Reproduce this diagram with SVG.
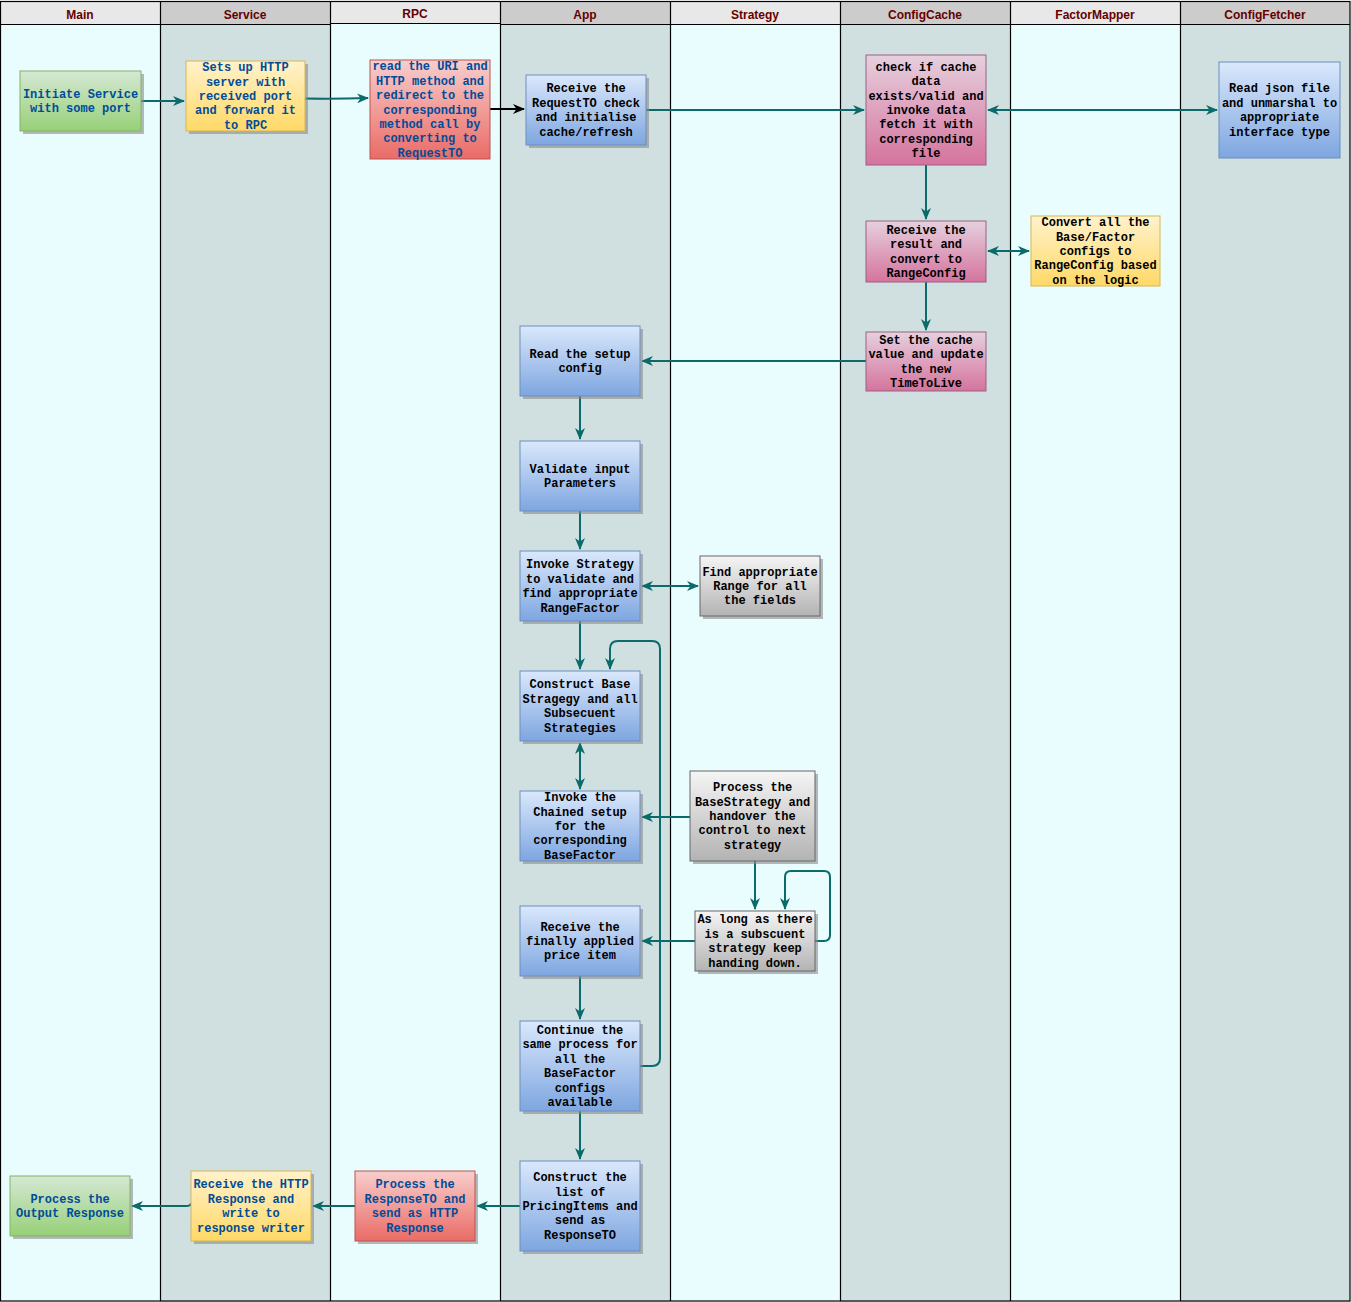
<svg xmlns="http://www.w3.org/2000/svg" width="1351" height="1302" viewBox="0 0 1351 1302">
<defs>
<linearGradient id="gBlue" x1="0" y1="0" x2="0" y2="1"><stop offset="0" stop-color="#dae8fc"/><stop offset="1" stop-color="#7ea6e0"/></linearGradient>
<linearGradient id="gGreen" x1="0" y1="0" x2="0" y2="1"><stop offset="0" stop-color="#d5e8d4"/><stop offset="1" stop-color="#97d077"/></linearGradient>
<linearGradient id="gYellow" x1="0" y1="0" x2="0" y2="1"><stop offset="0" stop-color="#fff2cc"/><stop offset="1" stop-color="#ffd966"/></linearGradient>
<linearGradient id="gRed" x1="0" y1="0" x2="0" y2="1"><stop offset="0" stop-color="#f8cecc"/><stop offset="1" stop-color="#ea6b66"/></linearGradient>
<linearGradient id="gPink" x1="0" y1="0" x2="0" y2="1"><stop offset="0" stop-color="#e6d0de"/><stop offset="1" stop-color="#d5739d"/></linearGradient>
<linearGradient id="gGrey" x1="0" y1="0" x2="0" y2="1"><stop offset="0" stop-color="#f5f5f5"/><stop offset="1" stop-color="#b3b3b3"/></linearGradient>
<marker id="arr" viewBox="0 0 12 10" refX="11" refY="5" markerWidth="12" markerHeight="10" markerUnits="userSpaceOnUse" orient="auto-start-reverse">
<path d="M0,0 L12,5 L0,10 L3.5,5 z" fill="#0b6b6b"/>
</marker>
<marker id="arrK" viewBox="0 0 12 10" refX="11" refY="5" markerWidth="12" markerHeight="10" markerUnits="userSpaceOnUse" orient="auto-start-reverse">
<path d="M0,0 L12,5 L0,10 L3.5,5 z" fill="#000"/>
</marker>
</defs>
<style>
.lane1{fill:#e9fdfe}
.lane2{fill:#d0e0e0}
.hd1{fill:#e8e8e8}
.hd2{fill:#cccccc}
.ln{stroke:#000;stroke-width:1.2;fill:none}
.ht{font-family:"Liberation Sans",Arial,sans-serif;font-weight:bold;font-size:12px;fill:#660000;text-anchor:middle}
.sh{fill:#8a8a8a;opacity:0.6}
.t{font-family:"Liberation Mono","Courier New",monospace;font-weight:bold;font-size:12px;text-anchor:middle;fill:#000}
.tb{fill:#004c99}
.blue{fill:url(#gBlue);stroke:#6c8ebf}
.green{fill:url(#gGreen);stroke:#82b366}
.yellow{fill:url(#gYellow);stroke:#d6b656}
.red{fill:url(#gRed);stroke:#b85450}
.pink{fill:url(#gPink);stroke:#996185}
.grey{fill:url(#gGrey);stroke:#666666}
.e{stroke:#0b6b6b;stroke-width:2;fill:none;marker-end:url(#arr)}
.e2{stroke:#0b6b6b;stroke-width:2;fill:none;marker-end:url(#arr);marker-start:url(#arr)}
</style>
<g id="lanes">
<rect class="lane1" x="0" y="24" width="160" height="1278"/>
<rect class="lane2" x="160" y="24" width="170" height="1278"/>
<rect class="lane1" x="330" y="24" width="170" height="1278"/>
<rect class="lane2" x="500" y="24" width="170" height="1278"/>
<rect class="lane1" x="670" y="24" width="170" height="1278"/>
<rect class="lane2" x="840" y="24" width="170" height="1278"/>
<rect class="lane1" x="1010" y="24" width="170" height="1278"/>
<rect class="lane2" x="1180" y="24" width="170" height="1278"/>
<rect class="hd1" x="0" y="1" width="160" height="23"/>
<rect class="hd2" x="160" y="1" width="170" height="23"/>
<rect class="hd1" x="330" y="1" width="170" height="22"/>
<rect class="hd2" x="500" y="1" width="170" height="23"/>
<rect class="hd1" x="670" y="1" width="170" height="23"/>
<rect class="hd2" x="840" y="1" width="170" height="23"/>
<rect class="hd1" x="1010" y="1" width="170" height="23"/>
<rect class="hd2" x="1180" y="1" width="170" height="23"/>
<rect class="ln" x="0.5" y="1.5" width="1349.5" height="1299.5"/>
<path class="ln" d="M160.5 1.5V1301 M330.5 1V1301 M500.5 1V1301 M670.5 1.5V1301 M840.5 1.5V1301 M1010.5 1.5V1301 M1180.5 1.5V1301 M0.5 24.5H330.5 M330.5 23.5H500.5 M500.5 24.5H1350"/>
<text class="ht" x="80" y="19">Main</text>
<text class="ht" x="245" y="19">Service</text>
<text class="ht" x="415" y="18">RPC</text>
<text class="ht" x="585" y="19">App</text>
<text class="ht" x="755" y="19">Strategy</text>
<text class="ht" x="925" y="19">ConfigCache</text>
<text class="ht" x="1095" y="19">FactorMapper</text>
<text class="ht" x="1265" y="19">ConfigFetcher</text>
</g>
<g id="connectors">
<path class="e" d="M141 101H184"/>
<path class="e" d="M305 98.5Q337 99 368 98"/>
<path d="M490 109H524" stroke="#000" stroke-width="2" fill="none" marker-end="url(#arrK)"/>
<path class="e" d="M646 110H864"/>
<path class="e2" d="M988 110H1217"/>
<path class="e" d="M926 165V219"/>
<path class="e2" d="M988 251H1029"/>
<path class="e" d="M926 282V330"/>
<path class="e" d="M866 361H642"/>
<path class="e" d="M580 396V439"/>
<path class="e" d="M580 511V549"/>
<path class="e2" d="M642 586H698"/>
<path class="e" d="M580 621V669"/>
<path class="e2" d="M580 743V789"/>
<path class="e" d="M690 817H642"/>
<path class="e" d="M755 861V909"/>
<path class="e" d="M815 941H824Q830 941 830 935V877Q830 871 824 871H791Q785 871 785 877V909"/>
<path class="e" d="M695 941H642"/>
<path class="e" d="M580 976V1019"/>
<path class="e" d="M640 1066H652Q660 1066 660 1058V649Q660 641 652 641H618Q610 641 610 649V669"/>
<path class="e" d="M580 1111V1159"/>
<path class="e" d="M520 1206H477"/>
<path class="e" d="M355 1206H313"/>
<path class="e" d="M191 1203Q191 1206 186 1206H132"/>
</g>
<g id="n-initiate">
<rect class="sh" x="23" y="74" width="121" height="60"/>
<rect class="green" x="20" y="71" width="121" height="60"/>
<text class="t tb" x="80.5" y="97.8"><tspan x="80.5">Initiate Service</tspan><tspan x="80.5" dy="14.4">with some port</tspan></text>
</g>
<g id="n-setup-http">
<rect class="sh" x="189" y="64" width="119" height="70"/>
<rect class="yellow" x="186" y="61" width="119" height="70"/>
<text class="t tb" x="245.5" y="71.2"><tspan x="245.5">Sets up HTTP</tspan><tspan x="245.5" dy="14.4">server with</tspan><tspan x="245.5" dy="14.4">received port</tspan><tspan x="245.5" dy="14.4">and forward it</tspan><tspan x="245.5" dy="14.4">to RPC</tspan></text>
</g>
<g id="n-read-uri">
<rect class="red" x="370" y="60" width="120" height="99"/>
<text class="t tb" x="430" y="70.3"><tspan x="430">read the URI and</tspan><tspan x="430" dy="14.4">HTTP method and</tspan><tspan x="430" dy="14.4">redirect to the</tspan><tspan x="430" dy="14.4">corresponding</tspan><tspan x="430" dy="14.4">method call by</tspan><tspan x="430" dy="14.4">converting to</tspan><tspan x="430" dy="14.4">RequestTO</tspan></text>
</g>
<g id="n-receive-request">
<rect class="sh" x="529" y="78" width="120" height="70"/>
<rect class="blue" x="526" y="75" width="120" height="70"/>
<text class="t" x="586" y="92.4"><tspan x="586">Receive the</tspan><tspan x="586" dy="14.4">RequestTO check</tspan><tspan x="586" dy="14.4">and initialise</tspan><tspan x="586" dy="14.4">cache/refresh</tspan></text>
</g>
<g id="n-check-cache">
<rect class="pink" x="866" y="55" width="120" height="110"/>
<text class="t" x="926" y="70.8"><tspan x="926">check if cache</tspan><tspan x="926" dy="14.4">data</tspan><tspan x="926" dy="14.4">exists/valid and</tspan><tspan x="926" dy="14.4">invoke data</tspan><tspan x="926" dy="14.4">fetch it with</tspan><tspan x="926" dy="14.4">corresponding</tspan><tspan x="926" dy="14.4">file</tspan></text>
</g>
<g id="n-read-json">
<rect class="blue" x="1219" y="62" width="121" height="96"/>
<text class="t" x="1279.5" y="92.4"><tspan x="1279.5">Read json file</tspan><tspan x="1279.5" dy="14.4">and unmarshal to</tspan><tspan x="1279.5" dy="14.4">appropriate</tspan><tspan x="1279.5" dy="14.4">interface type</tspan></text>
</g>
<g id="n-receive-result">
<rect class="pink" x="866" y="221" width="120" height="61"/>
<text class="t" x="926" y="233.9"><tspan x="926">Receive the</tspan><tspan x="926" dy="14.4">result and</tspan><tspan x="926" dy="14.4">convert to</tspan><tspan x="926" dy="14.4">RangeConfig</tspan></text>
</g>
<g id="n-convert">
<rect class="yellow" x="1031" y="216" width="129" height="70"/>
<text class="t" x="1095.5" y="226.2"><tspan x="1095.5">Convert all the</tspan><tspan x="1095.5" dy="14.4">Base/Factor</tspan><tspan x="1095.5" dy="14.4">configs to</tspan><tspan x="1095.5" dy="14.4">RangeConfig based</tspan><tspan x="1095.5" dy="14.4">on the logic</tspan></text>
</g>
<g id="n-set-cache">
<rect class="pink" x="866" y="332" width="120" height="59"/>
<text class="t" x="926" y="343.9"><tspan x="926">Set the cache</tspan><tspan x="926" dy="14.4">value and update</tspan><tspan x="926" dy="14.4">the new</tspan><tspan x="926" dy="14.4">TimeToLive</tspan></text>
</g>
<g id="n-read-setup">
<rect class="sh" x="523" y="329" width="120" height="70"/>
<rect class="blue" x="520" y="326" width="120" height="70"/>
<text class="t" x="580" y="357.8"><tspan x="580">Read the setup</tspan><tspan x="580" dy="14.4">config</tspan></text>
</g>
<g id="n-validate">
<rect class="sh" x="523" y="444" width="120" height="70"/>
<rect class="blue" x="520" y="441" width="120" height="70"/>
<text class="t" x="580" y="472.8"><tspan x="580">Validate input</tspan><tspan x="580" dy="14.4">Parameters</tspan></text>
</g>
<g id="n-invoke-strategy">
<rect class="sh" x="523" y="554" width="120" height="70"/>
<rect class="blue" x="520" y="551" width="120" height="70"/>
<text class="t" x="580" y="568.4"><tspan x="580">Invoke Strategy</tspan><tspan x="580" dy="14.4">to validate and</tspan><tspan x="580" dy="14.4">find appropriate</tspan><tspan x="580" dy="14.4">RangeFactor</tspan></text>
</g>
<g id="n-find-range">
<rect class="sh" x="703" y="559" width="120" height="60"/>
<rect class="grey" x="700" y="556" width="120" height="60"/>
<text class="t" x="760" y="575.6"><tspan x="760">Find appropriate</tspan><tspan x="760" dy="14.4">Range for all</tspan><tspan x="760" dy="14.4">the fields</tspan></text>
</g>
<g id="n-construct-base">
<rect class="sh" x="523" y="674" width="120" height="70"/>
<rect class="blue" x="520" y="671" width="120" height="70"/>
<text class="t" x="580" y="688.4"><tspan x="580">Construct Base</tspan><tspan x="580" dy="14.4">Stragegy and all</tspan><tspan x="580" dy="14.4">Subsecuent</tspan><tspan x="580" dy="14.4">Strategies</tspan></text>
</g>
<g id="n-invoke-chained">
<rect class="sh" x="523" y="794" width="120" height="70"/>
<rect class="blue" x="520" y="791" width="120" height="70"/>
<text class="t" x="580" y="801.2"><tspan x="580">Invoke the</tspan><tspan x="580" dy="14.4">Chained setup</tspan><tspan x="580" dy="14.4">for the</tspan><tspan x="580" dy="14.4">corresponding</tspan><tspan x="580" dy="14.4">BaseFactor</tspan></text>
</g>
<g id="n-process-base">
<rect class="sh" x="693" y="774" width="125" height="90"/>
<rect class="grey" x="690" y="771" width="125" height="90"/>
<text class="t" x="752.5" y="791.2"><tspan x="752.5">Process the</tspan><tspan x="752.5" dy="14.4">BaseStrategy and</tspan><tspan x="752.5" dy="14.4">handover the</tspan><tspan x="752.5" dy="14.4">control to next</tspan><tspan x="752.5" dy="14.4">strategy</tspan></text>
</g>
<g id="n-receive-finally">
<rect class="sh" x="523" y="909" width="120" height="70"/>
<rect class="blue" x="520" y="906" width="120" height="70"/>
<text class="t" x="580" y="930.6"><tspan x="580">Receive the</tspan><tspan x="580" dy="14.4">finally applied</tspan><tspan x="580" dy="14.4">price item</tspan></text>
</g>
<g id="n-as-long">
<rect class="sh" x="698" y="914" width="120" height="60"/>
<rect class="grey" x="695" y="911" width="120" height="60"/>
<text class="t" x="755" y="923.4"><tspan x="755">As long as there</tspan><tspan x="755" dy="14.4">is a subscuent</tspan><tspan x="755" dy="14.4">strategy keep</tspan><tspan x="755" dy="14.4">handing down.</tspan></text>
</g>
<g id="n-continue">
<rect class="sh" x="523" y="1024" width="120" height="90"/>
<rect class="blue" x="520" y="1021" width="120" height="90"/>
<text class="t" x="580" y="1034"><tspan x="580">Continue the</tspan><tspan x="580" dy="14.4">same process for</tspan><tspan x="580" dy="14.4">all the</tspan><tspan x="580" dy="14.4">BaseFactor</tspan><tspan x="580" dy="14.4">configs</tspan><tspan x="580" dy="14.4">available</tspan></text>
</g>
<g id="n-construct-list">
<rect class="sh" x="523" y="1164" width="120" height="90"/>
<rect class="blue" x="520" y="1161" width="120" height="90"/>
<text class="t" x="580" y="1181.2"><tspan x="580">Construct the</tspan><tspan x="580" dy="14.4">list of</tspan><tspan x="580" dy="14.4">PricingItems and</tspan><tspan x="580" dy="14.4">send as</tspan><tspan x="580" dy="14.4">ResponseTO</tspan></text>
</g>
<g id="n-process-responseto">
<rect class="sh" x="358" y="1174" width="120" height="70"/>
<rect class="red" x="355" y="1171" width="120" height="70"/>
<text class="t tb" x="415" y="1188.4"><tspan x="415">Process the</tspan><tspan x="415" dy="14.4">ResponseTO and</tspan><tspan x="415" dy="14.4">send as HTTP</tspan><tspan x="415" dy="14.4">Response</tspan></text>
</g>
<g id="n-receive-http">
<rect class="sh" x="194" y="1174" width="120" height="70"/>
<rect class="yellow" x="191" y="1171" width="120" height="70"/>
<text class="t tb" x="251" y="1188.4"><tspan x="251">Receive the HTTP</tspan><tspan x="251" dy="14.4">Response and</tspan><tspan x="251" dy="14.4">write to</tspan><tspan x="251" dy="14.4">response writer</tspan></text>
</g>
<g id="n-process-output">
<rect class="sh" x="13" y="1179" width="120" height="60"/>
<rect class="green" x="10" y="1176" width="120" height="60"/>
<text class="t tb" x="70" y="1202.8"><tspan x="70">Process the</tspan><tspan x="70" dy="14.4">Output Response</tspan></text>
</g>
</svg>
